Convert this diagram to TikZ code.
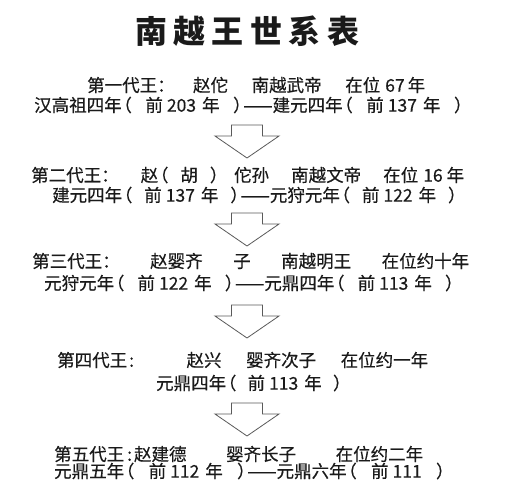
\documentclass[tikz,border=0pt]{standalone}
\usepackage{fontspec}
\setmainfont{Noto Sans CJK SC}
\newfontfamily\rowfont{Noto Sans CJK SC}[FakeBold=0.35]
\definecolor{ink}{HTML}{1A1A1A}
\definecolor{edge}{HTML}{5A5A5A}

\tikzset{
  row/.style={anchor=west, inner sep=0pt, text=ink, font=\fontsize{17.5}{20}\rowfont},
  hollow/.style={draw=edge, line width=0.8pt, fill=white, line join=miter},
}
% строка, растянутая до заданной ширины
\newcommand{\fitline}[2]{\makebox[#1pt][s]{#2}}
% скобки без лишнего поля снаружи
\newcommand{\lp}{\kern-0.42em（}
\newcommand{\rp}{）\kern-0.42em}
% год до н.э.
\newcommand{\yr}[1]{前\hspace{4pt}#1\hspace{6pt}年}
% полая стрелка вниз от точки #1
\newcommand{\blockarrow}[1]{%
  \draw[hollow] (#1) ++(-15.5,0) -- ++(31,0) -- ++(0,11) -- ++(16.5,0)
    -- ++(-32,22) -- ++(-32,-22) -- ++(16.5,0) -- cycle;}

\begin{document}
\begin{tikzpicture}[x=1pt, y=-1pt]

    % рамка картинки
    \clip (0,0) rectangle (506,480);
    \fill[white] (0,0) rectangle (506,480);

    % Заголовок
    \node[inner sep=0pt, text=ink, font=\fontsize{32}{36}\selectfont\bfseries] (title) at (247,31)
        {\fitline{224}{南 越 王 世 系 表}};

    % Первый ван
    \node[row] (w1a) at (87,85) {\fitline{338}{第一代王：\kern-0.3em{} 赵佗 南越武帝 在位\hspace{5pt}67\hspace{3pt}年}};
    \node[row] (w1b) at (34,105) {\fitline{430}{汉高祖四年\lp{} \yr{203} \rp——建元四年\lp{} \yr{137} \rp}};

    % Второй ван
    \node[row] (w2a) at (31,175) {\fitline{433}{第二代王： 赵\lp\hspace{12pt}胡\hspace{12pt}\rp\hspace{14pt}佗孙 南越文帝 在位\hspace{5pt}16\hspace{4pt}年}};
    \node[row] (w2b) at (52,195) {\fitline{406}{建元四年\lp{} \yr{137} \rp——元狩元年\lp{} \yr{122} \rp}};

    % Третий ван
    \node[row] (w3a) at (32,261) {\fitline{437}{第三代王： 赵婴齐 子 南越明王 在位约十年}};
    \node[row] (w3b) at (44,283) {\fitline{411}{元狩元年\lp{} \yr{122} \rp——元鼎四年\lp{} \yr{113} \rp}};

    % Четвёртый ван
    \node[row] (w4a) at (57,360) {\fitline{371}{第四代王\hspace{2pt}:\hspace{6pt} 赵兴 婴齐次子 在位约一年}};
    \node[row] (w4b) at (156,383) {\fitline{187}{元鼎四年\lp{} \yr{113} \rp}};

    % Пятый ван
    \node[row] (w5a) at (54,454) {\fitline{369}{第五代王\hspace{3pt}:\hspace{2pt}赵建德 婴齐长子 在位约二年}};
    \node[row] (w5b) at (54,471) {\fitline{392}{元鼎五年\lp{} \yr{112} \rp——元鼎六年\lp{} 前\hspace{4pt}111 \rp}};

    % Стрелки между поколениями
    \coordinate (a1) at (247,125);
    \coordinate (a2) at (247,213);
    \coordinate (a3) at (247,305);
    \coordinate (a4) at (247,403);
    \blockarrow{a1}
    \blockarrow{a2}
    \blockarrow{a3}
    \blockarrow{a4}

\end{tikzpicture}
\end{document}
